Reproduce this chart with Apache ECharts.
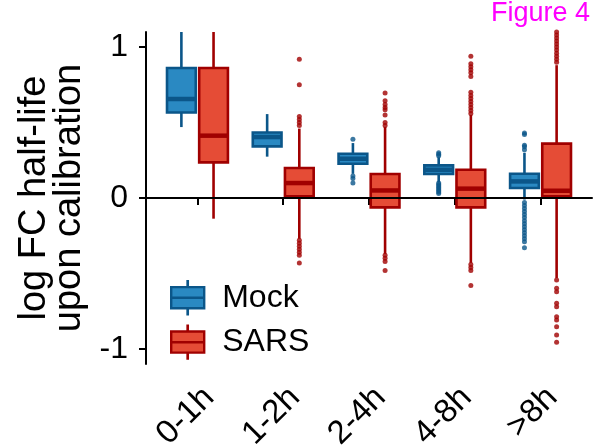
<!DOCTYPE html>
<html>
<head>
<meta charset="utf-8">
<script src="https://cdn.jsdelivr.net/npm/echarts@6/dist/echarts.min.js"></script>
<style>html,body{margin:0;padding:0;background:#fff;}#c{width:594px;height:446px;}</style>
</head>
<body>
<div id="c"></div>
<script>
const categories = ['0-1h', '1-2h', '2-4h', '4-8h', '>8h'];
const yTicks = [-1, 0, 1];
// [lower whisker, Q1, median, Q3, upper whisker]
const mockStats = [
  [0.47, 0.567, 0.656, 0.861, 1.1],
  [0.274, 0.342, 0.404, 0.434, 0.556],
  [0.16, 0.227, 0.26, 0.293, 0.364],
  [0.105, 0.159, 0.187, 0.216, 0.27],
  [-0.01, 0.066, 0.11, 0.161, 0.30]
];
const sarsStats = [
  [-0.137, 0.236, 0.413, 0.861, 1.1],
  [-0.27, 0.011, 0.099, 0.199, 0.46],
  [-0.37, -0.062, 0.05, 0.159, 0.47],
  [-0.43, -0.062, 0.062, 0.187, 0.55],
  [-0.53, 0.011, 0.048, 0.36, 0.88]
];
const mockOutliers = [
  [],
  [],
  [0.39, 0.145, 0.13, 0.10],
  [0.28, 0.29, 0.30, 0.10, 0.09, 0.08, 0.07, 0.06, 0.05, 0.04, 0.03],
  [0.43, 0.42, 0.35, 0.34, 0.32, -0.03, -0.05, -0.07, -0.09, -0.11, -0.13, -0.15, -0.17, -0.19, -0.21, -0.23, -0.25, -0.27, -0.29, -0.33]
];
const sarsOutliers = [
  [],
  [0.48, 0.50, 0.52, 0.54, 0.75, 0.92, -0.28, -0.30, -0.32, -0.34, -0.36, -0.38, -0.43],
  [0.48, 0.50, 0.55, 0.585, 0.60, 0.62, 0.645, 0.695, -0.38, -0.40, -0.42, -0.48],
  [0.56, 0.58, 0.60, 0.62, 0.64, 0.66, 0.68, 0.70, 0.805, 0.83, 0.85, 0.87, 0.89, 0.94, -0.44, -0.46, -0.48, -0.58],
  [0.90, 0.92, 0.94, 0.96, 0.98, 1.00, 1.02, 1.04, 1.06, 1.08, 1.10, -0.543, -0.598, -0.621, -0.698, -0.72, -0.787, -0.808, -0.853, -0.908, -0.956]
];

const MOCK_FILL = '#2a89c2', MOCK_LINE = '#0b5689';
const SARS_FILL = '#e54c36', SARS_LINE = '#a00000';
const DODGE = 0.1875, BOX_W = 0.335;
const FONT = 'Liberation Sans';

function boxData(stats, shift) {
  return stats.map((s, i) => [i + 1 + shift].concat(s));
}
function outlierData(outs, shift) {
  const res = [];
  outs.forEach((arr, i) => arr.forEach(v => res.push([i + 1 + shift, v])));
  return res;
}
function makeRender(fill, line) {
  return function (params, api) {
    const x = api.value(0);
    const pLo = api.coord([x, api.value(1)]);
    const pQ1 = api.coord([x, api.value(2)]);
    const pMed = api.coord([x, api.value(3)]);
    const pQ3 = api.coord([x, api.value(4)]);
    const pHi = api.coord([x, api.value(5)]);
    const half = api.size([BOX_W, 0])[0] / 2;
    return {
      type: 'group',
      children: [
        { type: 'line', shape: { x1: pHi[0], y1: pHi[1], x2: pQ3[0], y2: pQ3[1] }, style: { stroke: line, lineWidth: 2.6 } },
        { type: 'line', shape: { x1: pLo[0], y1: pLo[1], x2: pQ1[0], y2: pQ1[1] }, style: { stroke: line, lineWidth: 2.6 } },
        { type: 'rect', shape: { x: pQ3[0] - half, y: pQ3[1], width: half * 2, height: pQ1[1] - pQ3[1] }, style: { fill: fill, stroke: line, lineWidth: 2.6 } },
        { type: 'line', shape: { x1: pMed[0] - half, y1: pMed[1], x2: pMed[0] + half, y2: pMed[1] }, style: { stroke: line, lineWidth: 4.5 } }
      ]
    };
  };
}

const ICON = 'path://M0,18 L100,18 L100,82 L0,82 Z M0,50 L100,50 L100,50.6 L0,50.6 Z M49.6,0 L50.4,0 L50.4,18 L49.6,18 Z M49.6,82 L50.4,82 L50.4,100 L49.6,100 Z';

const chart = echarts.init(document.getElementById('c'));
chart.setOption({
  backgroundColor: '#fff',
  animation: false,
  textStyle: { fontFamily: FONT },
  graphic: [{
    type: 'text', right: 4, top: 0,
    style: { text: 'Figure 4', fill: '#ff00ff', font: '27px "Liberation Sans"' }
  }],
  grid: { left: 146, right: 2, top: 32, bottom: 82, outerBoundsMode: 'none', containLabel: false },
  legend: {
    orient: 'vertical', left: 165, top: 275,
    itemWidth: 33, itemHeight: 33, itemGap: 9,
    textStyle: { fontSize: 32, color: '#000', fontFamily: FONT, padding: [0, 0, 0, 13] },
    data: [
      { name: 'Mock', icon: ICON, itemStyle: { color: MOCK_FILL, borderColor: MOCK_LINE, borderWidth: 2.4 } },
      { name: 'SARS', icon: ICON, itemStyle: { color: SARS_FILL, borderColor: SARS_LINE, borderWidth: 2.4 } }
    ]
  },
  xAxis: {
    type: 'value', min: 0.4, max: 5.6,
    splitLine: { show: false },
    axisLine: { lineStyle: { color: '#000', width: 2 } },
    axisTick: { customValues: [1, 2, 3, 4, 5], length: 7, lineStyle: { color: '#000', width: 2 } },
    axisLabel: {
      customValues: [1, 2, 3, 4, 5], rotate: 45, margin: 17,
      align: 'right', verticalAlign: 'top',
      fontSize: 33, color: '#000', fontFamily: FONT,
      formatter: v => categories[Math.round(v) - 1]
    }
  },
  yAxis: {
    type: 'value', min: -1.1, max: 1.1,
    splitLine: { show: false },
    axisLine: { lineStyle: { color: '#000', width: 2 } },
    axisTick: { customValues: yTicks, length: 7, lineStyle: { color: '#000', width: 2 } },
    axisLabel: { customValues: yTicks, margin: 18, fontSize: 32, color: '#000', fontFamily: FONT },
    name: 'log FC half-life\nupon calibration',
    nameLocation: 'middle', nameRotate: 90, nameGap: 58,
    nameTextStyle: { fontSize: 38, lineHeight: 35, color: '#000', fontFamily: FONT }
  },
  series: [
    {
      name: 'Mock', type: 'custom', clip: true, z: 3,
      itemStyle: { color: MOCK_FILL, borderColor: MOCK_LINE, borderWidth: 2 },
      encode: { x: 0, y: [1, 2, 3, 4, 5] },
      renderItem: makeRender(MOCK_FILL, MOCK_LINE),
      data: boxData(mockStats, -DODGE)
    },
    {
      name: 'SARS', type: 'custom', clip: true, z: 3,
      itemStyle: { color: SARS_FILL, borderColor: SARS_LINE, borderWidth: 2 },
      encode: { x: 0, y: [1, 2, 3, 4, 5] },
      renderItem: makeRender(SARS_FILL, SARS_LINE),
      data: boxData(sarsStats, DODGE)
    },
    {
      name: 'Mock outliers', type: 'scatter', symbolSize: 5, z: 4, clip: true,
      itemStyle: { color: MOCK_LINE },
      data: outlierData(mockOutliers, -DODGE)
    },
    {
      name: 'SARS outliers', type: 'scatter', symbolSize: 5, z: 4, clip: true,
      itemStyle: { color: SARS_LINE },
      data: outlierData(sarsOutliers, DODGE)
    },
    {
      name: 'zero', type: 'line', data: [], z: 6, silent: true,
      markLine: {
        silent: true, symbol: 'none', label: { show: false },
        lineStyle: { color: '#000', width: 2, type: 'solid' },
        data: [{ yAxis: 0 }]
      }
    }
  ]
});
</script>
</body>
</html>
